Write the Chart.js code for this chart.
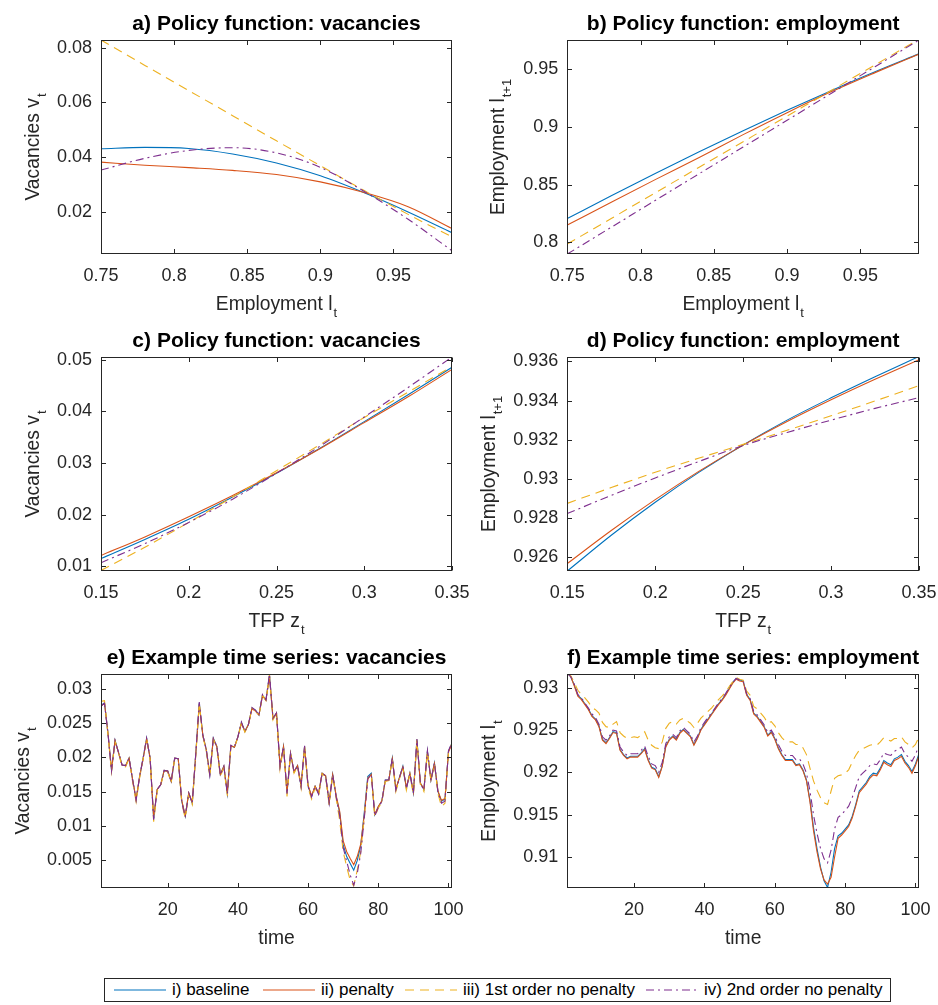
<!DOCTYPE html>
<html>
<head>
<meta charset="utf-8">
<script src="https://cdn.jsdelivr.net/npm/chart.js@4.4.1/dist/chart.umd.min.js"></script>
<style>
  body { margin: 0; background: #fff; width: 938px; height: 1005px; position: relative; overflow: hidden;
         font-family: "Liberation Sans", Arial, sans-serif; }
  canvas { position: absolute; }
  #legend { position: absolute; left: 104px; top: 978px; width: 787px; height: 24px;
            border: 1px solid #262626; box-sizing: border-box; background: #fff; }
  #legend .item { position: absolute; top: 0; height: 22px; display: flex; align-items: center; }
  #legend span { font-size: 17px; color: #000; margin-left: 6px; white-space: nowrap; }
</style>
</head>
<body>
<canvas id="pa" width="469" height="317" style="left:0;top:0"></canvas>
<canvas id="pb" width="469" height="317" style="left:469px;top:0"></canvas>
<canvas id="pc" width="469" height="317" style="left:0;top:317px"></canvas>
<canvas id="pd" width="469" height="317" style="left:469px;top:317px"></canvas>
<canvas id="pe" width="469" height="317" style="left:0;top:634px"></canvas>
<canvas id="pf" width="469" height="317" style="left:469px;top:634px"></canvas>
<div id="legend"></div>

<script>
// ---- data ----
const seriesNames = ['i) baseline', 'ii) penalty', 'iii) 1st order no penalty', 'iv) 2nd order no penalty'];

// policy functions over employment (panels a, b)
const empGrid = [0.75, 0.78, 0.81, 0.84, 0.87, 0.90, 0.93, 0.96, 0.99];
const aBase   = [0.0430, 0.0435, 0.0431, 0.0411, 0.0378, 0.0331, 0.0269, 0.0199, 0.0123];
const aPen    = [0.0381, 0.0370, 0.0361, 0.0351, 0.0336, 0.0309, 0.0270, 0.0218, 0.0138];
const aFirst  = [0.0828, 0.0735, 0.0643, 0.0551, 0.0459, 0.0368, 0.0277, 0.0190, 0.0108];
const aSecond = [0.0352, 0.0395, 0.0424, 0.0434, 0.0415, 0.0362, 0.0274, 0.0172, 0.0057];

const bBase   = [0.8207, 0.8403, 0.8596, 0.8783, 0.8965, 0.9142, 0.9312, 0.9475, 0.9630];
const bPen    = [0.8150, 0.8348, 0.8543, 0.8735, 0.8932, 0.9122, 0.9302, 0.9468, 0.9628];
const bFirst  = [0.7986, 0.8207, 0.8429, 0.8650, 0.8871, 0.9092, 0.9313, 0.9535, 0.9756];
const bSecond = [0.7900, 0.8131, 0.8363, 0.8594, 0.8825, 0.9056, 0.9288, 0.9519, 0.9750];

// policy functions over TFP (panels c, d)
const tfpGrid = [0.15, 0.175, 0.2, 0.225, 0.25, 0.275, 0.3, 0.325, 0.35];
const cBase   = [0.0115, 0.0152, 0.0191, 0.0234, 0.0280, 0.0329, 0.0380, 0.0432, 0.0485];
const cPen    = [0.0121, 0.0157, 0.0196, 0.0237, 0.0281, 0.0328, 0.0378, 0.0428, 0.0481];
const cFirst  = [0.0092, 0.0137, 0.0185, 0.0234, 0.0285, 0.0336, 0.0388, 0.0437, 0.0487];
const cSecond = [0.0107, 0.0144, 0.0185, 0.0230, 0.0280, 0.0333, 0.0389, 0.0446, 0.0505];

const dBase   = [0.92528, 0.92711, 0.92880, 0.93034, 0.93173, 0.93300, 0.93414, 0.93522, 0.93626];
const dPen    = [0.92566, 0.92735, 0.92893, 0.93039, 0.93172, 0.93293, 0.93404, 0.93509, 0.93609];
const dFirst  = [0.92874, 0.92955, 0.93033, 0.93106, 0.93176, 0.93248, 0.93322, 0.93398, 0.93477];
const dSecond = [0.92822, 0.92915, 0.93004, 0.93089, 0.93170, 0.93237, 0.93300, 0.93360, 0.93415];

// example time series (panels e, f), t = 1..101
const timeGrid = Array.from({ length: 101 }, (_, i) => i + 1);
const eBase = [
  0.0276,0.0280,0.0235,0.0181,0.0225,0.0207,0.0189,0.0188,0.0199,0.0168,
  0.0138,0.0172,0.0199,0.0228,0.0199,0.0110,0.0153,0.0160,0.0181,0.0180,
  0.0165,0.0199,0.0198,0.0136,0.0114,0.0148,0.0133,0.0205,0.0280,0.0233,
  0.0211,0.0175,0.0228,0.0216,0.0175,0.0187,0.0147,0.0217,0.0215,0.0230,
  0.0251,0.0238,0.0248,0.0272,0.0269,0.0262,0.0291,0.0284,0.0320,0.0257,
  0.0265,0.0187,0.0216,0.0148,0.0206,0.0179,0.0188,0.0158,0.0216,0.0158,
  0.0143,0.0158,0.0147,0.0177,0.0173,0.0134,0.0175,0.0143,0.0119,0.0072,
  0.0055,0.0045,0.0035,0.0049,0.0071,0.0119,0.0172,0.0177,0.0116,0.0128,
  0.0136,0.0167,0.0167,0.0199,0.0153,0.0170,0.0187,0.0155,0.0177,0.0148,
  0.0226,0.0162,0.0153,0.0209,0.0167,0.0192,0.0150,0.0136,0.0139,0.0209,
  0.0221];
const ePen = [
  0.0275,0.0279,0.0235,0.0182,0.0224,0.0207,0.0189,0.0188,0.0199,0.0168,
  0.0139,0.0172,0.0198,0.0227,0.0199,0.0112,0.0153,0.0160,0.0181,0.0180,
  0.0165,0.0199,0.0198,0.0137,0.0115,0.0148,0.0134,0.0205,0.0278,0.0233,
  0.0211,0.0176,0.0227,0.0216,0.0175,0.0187,0.0148,0.0217,0.0215,0.0230,
  0.0250,0.0238,0.0248,0.0271,0.0268,0.0262,0.0290,0.0284,0.0318,0.0257,
  0.0265,0.0188,0.0216,0.0149,0.0206,0.0179,0.0188,0.0159,0.0216,0.0159,
  0.0144,0.0158,0.0148,0.0177,0.0173,0.0135,0.0175,0.0144,0.0121,0.0078,
  0.0062,0.0052,0.0043,0.0055,0.0073,0.0115,0.0168,0.0175,0.0117,0.0128,
  0.0136,0.0166,0.0167,0.0198,0.0154,0.0170,0.0186,0.0156,0.0177,0.0149,
  0.0224,0.0162,0.0154,0.0208,0.0167,0.0191,0.0151,0.0137,0.0140,0.0208,
  0.0220];
const eFirst = [
  0.0282,0.0283,0.0233,0.0179,0.0224,0.0206,0.0187,0.0186,0.0198,0.0165,
  0.0135,0.0170,0.0198,0.0228,0.0196,0.0106,0.0151,0.0158,0.0180,0.0179,
  0.0163,0.0198,0.0197,0.0133,0.0111,0.0146,0.0131,0.0203,0.0279,0.0231,
  0.0209,0.0172,0.0227,0.0214,0.0172,0.0185,0.0144,0.0216,0.0214,0.0229,
  0.0251,0.0237,0.0247,0.0272,0.0268,0.0261,0.0291,0.0283,0.0321,0.0255,
  0.0264,0.0183,0.0215,0.0143,0.0205,0.0177,0.0186,0.0155,0.0215,0.0155,
  0.0139,0.0156,0.0144,0.0176,0.0171,0.0130,0.0174,0.0140,0.0108,0.0062,
  0.0040,0.0020,0.0012,0.0035,0.0062,0.0112,0.0170,0.0176,0.0113,0.0126,
  0.0134,0.0165,0.0166,0.0198,0.0150,0.0168,0.0186,0.0152,0.0175,0.0145,
  0.0226,0.0160,0.0150,0.0208,0.0165,0.0191,0.0147,0.0128,0.0133,0.0207,
  0.0221];
const eSecond = [
  0.0275,0.0279,0.0234,0.0180,0.0225,0.0207,0.0189,0.0188,0.0199,0.0167,
  0.0137,0.0172,0.0199,0.0228,0.0198,0.0109,0.0153,0.0160,0.0181,0.0180,
  0.0165,0.0199,0.0198,0.0135,0.0113,0.0148,0.0133,0.0206,0.0281,0.0233,
  0.0211,0.0174,0.0228,0.0216,0.0174,0.0187,0.0146,0.0218,0.0215,0.0230,
  0.0252,0.0238,0.0248,0.0273,0.0269,0.0262,0.0292,0.0284,0.0322,0.0257,
  0.0265,0.0186,0.0216,0.0147,0.0206,0.0179,0.0188,0.0157,0.0217,0.0157,
  0.0142,0.0158,0.0146,0.0177,0.0173,0.0133,0.0175,0.0142,0.0115,0.0068,
  0.0048,0.0028,0.0013,0.0030,0.0060,0.0110,0.0169,0.0176,0.0114,0.0127,
  0.0135,0.0167,0.0167,0.0199,0.0152,0.0170,0.0187,0.0154,0.0177,0.0147,
  0.0227,0.0162,0.0152,0.0210,0.0166,0.0192,0.0149,0.0133,0.0136,0.0210,
  0.0222];

const fBase = [
  0.9317,0.9313,0.9303,0.9291,0.9287,0.9281,0.9275,0.9267,0.9263,0.9255,
  0.9239,0.9235,0.9241,0.9248,0.9247,0.9227,0.9221,0.9217,0.9219,0.9219,
  0.9219,0.9223,0.9228,0.9215,0.9206,0.9204,0.9195,0.9208,0.9231,0.9239,
  0.9243,0.9239,0.9247,0.9251,0.9247,0.9243,0.9233,0.9241,0.9251,0.9257,
  0.9263,0.9269,0.9275,0.9281,0.9286,0.9292,0.9299,0.9306,0.9311,0.9309,
  0.9308,0.9292,0.9286,0.9270,0.9266,0.9260,0.9254,0.9244,0.9248,0.9240,
  0.9229,0.9221,0.9215,0.9215,0.9215,0.9209,0.9210,0.9203,0.9191,0.9167,
  0.9135,0.9110,0.9088,0.9072,0.9064,0.9082,0.9110,0.9125,0.9128,0.9133,
  0.9138,0.9148,0.9162,0.9178,0.9183,0.9188,0.9195,0.9199,0.9198,0.9205,
  0.9214,0.9211,0.9209,0.9216,0.9218,0.9221,0.9213,0.9208,0.9201,0.9210,
  0.9222];
const fPen = [
  0.9317,0.9313,0.9302,0.9290,0.9286,0.9280,0.9274,0.9266,0.9262,0.9254,
  0.9238,0.9234,0.9240,0.9247,0.9246,0.9226,0.9220,0.9216,0.9218,0.9218,
  0.9218,0.9222,0.9227,0.9214,0.9205,0.9203,0.9194,0.9207,0.9230,0.9238,
  0.9242,0.9238,0.9246,0.9250,0.9246,0.9242,0.9232,0.9240,0.9250,0.9256,
  0.9262,0.9268,0.9274,0.9280,0.9285,0.9291,0.9298,0.9305,0.9310,0.9308,
  0.9307,0.9291,0.9285,0.9269,0.9265,0.9259,0.9253,0.9243,0.9247,0.9239,
  0.9228,0.9220,0.9214,0.9214,0.9214,0.9208,0.9209,0.9202,0.9190,0.9165,
  0.9131,0.9106,0.9086,0.9073,0.9068,0.9076,0.9100,0.9122,0.9126,0.9131,
  0.9136,0.9146,0.9160,0.9176,0.9181,0.9186,0.9193,0.9197,0.9196,0.9203,
  0.9212,0.9209,0.9207,0.9214,0.9216,0.9219,0.9211,0.9206,0.9199,0.9208,
  0.9220];
const fFirst = [
  0.9317,0.9314,0.9306,0.9297,0.9292,0.9288,0.9283,0.9277,0.9274,0.9270,
  0.9259,0.9254,0.9253,0.9257,0.9260,0.9247,0.9243,0.9240,0.9241,0.9242,
  0.9241,0.9244,0.9248,0.9238,0.9232,0.9229,0.9228,0.9236,0.9252,0.9258,
  0.9260,0.9257,0.9262,0.9264,0.9261,0.9258,0.9253,0.9258,0.9264,0.9268,
  0.9272,0.9276,0.9281,0.9286,0.9290,0.9295,0.9301,0.9307,0.9312,0.9310,
  0.9309,0.9296,0.9291,0.9278,0.9275,0.9270,0.9265,0.9258,0.9260,0.9255,
  0.9247,0.9241,0.9237,0.9236,0.9236,0.9233,0.9233,0.9229,0.9221,0.9205,
  0.9190,0.9179,0.9170,0.9164,0.9162,0.9178,0.9193,0.9196,0.9197,0.9199,
  0.9203,0.9212,0.9220,0.9226,0.9228,0.9230,0.9232,0.9233,0.9232,0.9236,
  0.9241,0.9239,0.9237,0.9240,0.9240,0.9242,0.9236,0.9233,0.9229,0.9233,
  0.9242];
const fSecond = [
  0.9317,0.9313,0.9304,0.9292,0.9288,0.9282,0.9276,0.9269,0.9265,0.9257,
  0.9242,0.9238,0.9243,0.9250,0.9249,0.9230,0.9224,0.9220,0.9222,0.9222,
  0.9222,0.9226,0.9231,0.9219,0.9210,0.9208,0.9200,0.9212,0.9234,0.9242,
  0.9245,0.9241,0.9249,0.9253,0.9249,0.9245,0.9236,0.9243,0.9253,0.9259,
  0.9265,0.9270,0.9276,0.9282,0.9287,0.9293,0.9300,0.9306,0.9311,0.9309,
  0.9308,0.9293,0.9287,0.9272,0.9268,0.9262,0.9256,0.9247,0.9250,0.9243,
  0.9233,0.9225,0.9220,0.9220,0.9220,0.9215,0.9216,0.9210,0.9199,0.9178,
  0.9150,0.9128,0.9110,0.9098,0.9093,0.9108,0.9133,0.9147,0.9150,0.9155,
  0.9160,0.9170,0.9182,0.9195,0.9199,0.9203,0.9208,0.9210,0.9209,0.9215,
  0.9223,0.9221,0.9220,0.9225,0.9227,0.9230,0.9222,0.9218,0.9213,0.9221,
  0.9232];

// tick labels
const empTicks  = [0.75, 0.8, 0.85, 0.9, 0.95];
const tfpTicks  = [0.15, 0.2, 0.25, 0.3, 0.35];
const timeTicks = [20, 40, 60, 80, 100];
const aYTicks = [0.02, 0.04, 0.06, 0.08];
const bYTicks = [0.8, 0.85, 0.9, 0.95];
const cYTicks = [0.01, 0.02, 0.03, 0.04, 0.05];
const dYTicks = [0.926, 0.928, 0.93, 0.932, 0.934, 0.936];
const eYTicks = [0.005, 0.01, 0.015, 0.02, 0.025, 0.03];
const fYTicks = [0.91, 0.915, 0.92, 0.925, 0.93];

// ---- style ----
const FONT = '"Liberation Sans", Arial, Helvetica, sans-serif';
const colors = ['#0072BD', '#D95319', '#EDB120', '#7E2F8E'];
const dashes = [[], [], [9, 6], [8, 4, 2, 4]];
const AXIS = '#262626';

function subText(ctx, main, sub, cx, base) {
  ctx.font = '19.3px ' + FONT;
  const w1 = ctx.measureText(main).width;
  ctx.font = '13px ' + FONT;
  const w2 = sub ? ctx.measureText(sub).width + 1 : 0;
  const x0 = cx - (w1 + w2) / 2;
  ctx.textAlign = 'left';
  ctx.textBaseline = 'alphabetic';
  ctx.font = '19.3px ' + FONT;
  ctx.fillText(main, x0, base);
  if (sub) {
    ctx.font = '13px ' + FONT;
    ctx.fillText(sub, x0 + w1 + 1, base + 7);
  }
}

// axis labels with TeX-like subscripts
const axisText = {
  id: 'axisText',
  afterDraw(chart, args, o) {
    const { ctx, chartArea: a } = chart;
    ctx.save();
    ctx.fillStyle = AXIS;
    subText(ctx, o.xMain, o.xSub, (a.left + a.right) / 2, 309.5);
    ctx.translate(o.yBase, (a.top + a.bottom) / 2);
    ctx.rotate(-Math.PI / 2);
    subText(ctx, o.yMain, o.ySub, 0, 0);
    ctx.restore();
  }
};

// box with inward ticks on all four sides
const matlabBox = {
  id: 'matlabBox',
  afterDatasetsDraw(chart) {
    const { ctx, chartArea: a, scales: { x, y } } = chart;
    const L = Math.round(a.left) + 0.5, R = Math.round(a.right) - 0.5;
    const T = Math.round(a.top) + 0.5, B = Math.round(a.bottom) - 0.5;
    ctx.save();
    ctx.strokeStyle = AXIS;
    ctx.lineWidth = 1;
    ctx.strokeRect(L, T, R - L, B - T);
    ctx.beginPath();
    x.ticks.forEach(t => {
      const px = Math.round(x.getPixelForValue(t.value)) + 0.5;
      ctx.moveTo(px, B); ctx.lineTo(px, B - 4.5);
      ctx.moveTo(px, T); ctx.lineTo(px, T + 4.5);
    });
    y.ticks.forEach(t => {
      const py = Math.round(y.getPixelForValue(t.value)) + 0.5;
      ctx.moveTo(L, py); ctx.lineTo(L + 4.5, py);
      ctx.moveTo(R, py); ctx.lineTo(R - 4.5, py);
    });
    ctx.stroke();
    ctx.restore();
  }
};

function makePanel(id, p) {
  const datasets = p.series.map((s, i) => ({
    label: seriesNames[i],
    data: p.xs.map((x, j) => ({ x: x, y: s[j] })),
    borderColor: colors[i],
    borderWidth: 1.1,
    borderDash: dashes[i],
    pointRadius: 0,
    fill: false,
    order: 4 - i,
    tension: 0,
    cubicInterpolationMode: p.smooth ? 'monotone' : 'default'
  }));
  const tickFont = { family: FONT, size: 18 };
  return new Chart(document.getElementById(id), {
    type: 'line',
    data: { datasets },
    options: {
      responsive: false,
      animation: false,
      events: [],
      layout: { padding: { left: 0, right: p.padRight, top: 0, bottom: 0 } },
      plugins: {
        legend: { display: false },
        tooltip: { enabled: false },
        title: {
          display: true, text: p.title, fullSize: false, color: '#000',
          font: { family: FONT, size: 21, weight: 'bold' },
          padding: { top: 11.2, bottom: 3.6 }
        },
        axisText: { xMain: p.xLabel[0], xSub: p.xLabel[1], yMain: p.yLabel[0], ySub: p.yLabel[1], yBase: p.yBase }
      },
      scales: {
        x: {
          type: 'linear', min: p.xMin, max: p.xMax,
          grid: { display: false, drawTicks: false }, border: { display: false },
          ticks: { color: AXIS, font: tickFont, padding: 11.2, autoSkip: false, maxRotation: 0, callback: v => String(v) },
          afterBuildTicks: s => { s.ticks = p.xTicks.map(v => ({ value: v })); },
          afterFit: s => { s.height = 63; s.paddingLeft = 0; s.paddingRight = 0; }
        },
        y: {
          type: 'linear', min: p.yMin, max: p.yMax,
          grid: { display: false, drawTicks: false }, border: { display: false },
          ticks: { color: AXIS, font: tickFont, padding: 9, autoSkip: false, callback: v => String(v) },
          afterBuildTicks: s => { s.ticks = p.yTicks.map(v => ({ value: v })); },
          afterFit: s => { s.width = p.left; s.paddingTop = 0; s.paddingBottom = 0; }
        }
      }
    },
    plugins: [matlabBox, axisText]
  });
}

const LEFT = { left: 101, padRight: 17 };
const RIGHT = { left: 98.3, padRight: 19 };

makePanel('pa', Object.assign({}, LEFT, {
  title: 'a) Policy function: vacancies', xs: empGrid, smooth: true,
  series: [aBase, aPen, aFirst, aSecond],
  xMin: 0.75, xMax: 0.99, yMin: 0.0045, yMax: 0.0828, xTicks: empTicks, yTicks: aYTicks,
  xLabel: ['Employment l', 't'], yLabel: ['Vacancies v', 't'], yBase: 39
}));
makePanel('pb', Object.assign({}, RIGHT, {
  title: 'b) Policy function: employment', xs: empGrid, smooth: true,
  series: [bBase, bPen, bFirst, bSecond],
  xMin: 0.75, xMax: 0.99, yMin: 0.790, yMax: 0.975, xTicks: empTicks, yTicks: bYTicks,
  xLabel: ['Employment l', 't'], yLabel: ['Employment l', 't+1'], yBase: 35
}));
makePanel('pc', Object.assign({}, LEFT, {
  title: 'c) Policy function: vacancies', xs: tfpGrid, smooth: true,
  series: [cBase, cPen, cFirst, cSecond],
  xMin: 0.15, xMax: 0.35, yMin: 0.0091, yMax: 0.0505, xTicks: tfpTicks, yTicks: cYTicks,
  xLabel: ['TFP z', 't'], yLabel: ['Vacancies v', 't'], yBase: 39
}));
makePanel('pd', Object.assign({}, RIGHT, {
  title: 'd) Policy function: employment', xs: tfpGrid, smooth: true,
  series: [dBase, dPen, dFirst, dSecond],
  xMin: 0.15, xMax: 0.35, yMin: 0.92528, yMax: 0.93623, xTicks: tfpTicks, yTicks: dYTicks,
  xLabel: ['TFP z', 't'], yLabel: ['Employment l', 't+1'], yBase: 25.7
}));
makePanel('pe', Object.assign({}, LEFT, {
  title: 'e) Example time series: vacancies', xs: timeGrid, smooth: false,
  series: [eBase, ePen, eFirst, eSecond],
  xMin: 1, xMax: 101, yMin: 0.0009, yMax: 0.0322, xTicks: timeTicks, yTicks: eYTicks,
  xLabel: ['time', ''], yLabel: ['Vacancies v', 't'], yBase: 29.3
}));
makePanel('pf', Object.assign({}, RIGHT, {
  title: 'f) Example time series: employment', xs: timeGrid, smooth: false,
  series: [fBase, fPen, fFirst, fSecond],
  xMin: 1, xMax: 101, yMin: 0.90634, yMax: 0.93162, xTicks: timeTicks, yTicks: fYTicks,
  xLabel: ['time', ''], yLabel: ['Employment l', 't'], yBase: 25.7
}));

// shared legend below the panels
const legendSlots = [9, 158, 300, 541];
const legend = document.getElementById('legend');
seriesNames.forEach((name, i) => {
  const item = document.createElement('div');
  item.className = 'item';
  item.style.left = legendSlots[i] + 'px';
  const dash = dashes[i].length ? ' stroke-dasharray="' + dashes[i].join(' ') + '"' : '';
  item.innerHTML = '<svg width="52" height="10"><line x1="0" y1="5" x2="52" y2="5" stroke="' + colors[i] +
    '" stroke-width="1.2"' + dash + '/></svg><span>' + name + '</span>';
  legend.appendChild(item);
});
</script>
</body>
</html>
